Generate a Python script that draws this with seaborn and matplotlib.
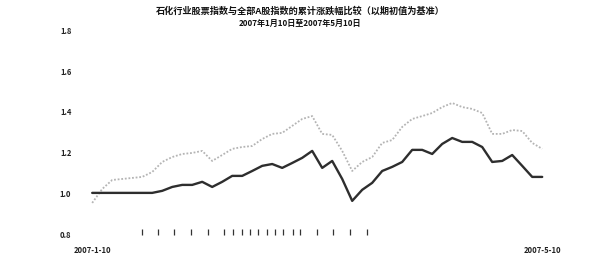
import matplotlib
matplotlib.use("Agg")
import matplotlib.pyplot as plt
import numpy as np
import pandas as pd
import seaborn as sns

# Values (normalised to start value), one point every ~2 trading days
sector_index = [1.005, 1.005, 1.005, 1.005, 1.005, 1.005, 1.005, 1.015, 1.034, 1.044,
                1.044, 1.059, 1.034, 1.059, 1.088, 1.088, 1.112, 1.137, 1.146, 1.127,
                1.151, 1.176, 1.210, 1.127, 1.161, 1.073, 0.966, 1.020, 1.054, 1.112,
                1.132, 1.156, 1.215, 1.215, 1.195, 1.244, 1.273, 1.254, 1.254, 1.229,
                1.156, 1.161, 1.190, 1.137, 1.083, 1.083]
market_index = [0.956, 1.024, 1.068, 1.073, 1.078, 1.083, 1.107, 1.156, 1.180, 1.195,
                1.200, 1.210, 1.161, 1.190, 1.220, 1.229, 1.234, 1.268, 1.293, 1.298,
                1.332, 1.366, 1.380, 1.293, 1.288, 1.210, 1.112, 1.156, 1.180, 1.249,
                1.263, 1.327, 1.366, 1.380, 1.395, 1.424, 1.444, 1.424, 1.415, 1.395,
                1.293, 1.293, 1.312, 1.307, 1.249, 1.220]
days = list(range(len(sector_index)))

y_ticks = [0.8, 1.0, 1.2, 1.4, 1.6, 1.8]
y_labels = ["0.8", "1.0", "1.2", "1.4", "1.6", "1.8"]
x_labels = ["2007-1-10", "2007-5-10"]
week_marks = [5.0, 6.6, 8.2, 9.9, 11.6, 13.2, 14.1, 15.0, 15.8, 16.6,
              17.5, 18.3, 19.1, 20.1, 20.8, 22.5, 24.1, 25.8, 27.5]

title_1 = "石化行业股票指数与全部A股指数的累计涨跌幅比较（以期初值为基准）"
title_2 = "2007年1月10日至2007年5月10日"

sns.set_style("white")
plt.rcParams["font.family"] = ["Noto Sans CJK SC", "DejaVu Sans"]

df = pd.DataFrame({"day": days, "sector": sector_index, "market": market_index})

fig = plt.figure(figsize=(6, 2.66), dpi=100)
ax = fig.add_axes([0.142, 0.117, 0.775, 0.77])

sns.lineplot(data=df, x="day", y="market", ax=ax, color="#b4b4b4",
             linewidth=1.3, linestyle=(0, (1, 1)))
sns.lineplot(data=df, x="day", y="sector", ax=ax, color="#2e2e2e", linewidth=1.7)

ax.set_xlim(-0.7, 45.8)
ax.set_ylim(0.8, 1.8)
ax.set_yticks(y_ticks)
ax.set_yticklabels(y_labels, fontsize=5.5, color="#222222", fontweight="bold")
ax.set_xticks([days[0], days[-1]])
ax.set_xticklabels(x_labels, fontsize=5.5, color="#222222", fontweight="bold")
ax.set_xticks(week_marks, minor=True)
ax.tick_params(axis="y", length=0, pad=10)
ax.tick_params(axis="x", which="major", bottom=True, length=0, pad=8)
ax.tick_params(axis="x", which="minor", bottom=True, direction="in", length=4,
               width=0.9, color="#333333")
ax.set_xlabel("")
ax.set_ylabel("")
for s in ax.spines.values():
    s.set_visible(False)

fig.text(0.5, 0.958, title_1, ha="center", va="center", fontsize=6.6,
         color="#111111", fontweight="bold")
fig.text(0.5, 0.91, title_2, ha="center", va="center", fontsize=5.8,
         color="#111111", fontweight="bold")

fig.savefig("out.png", dpi=100, facecolor="white")
